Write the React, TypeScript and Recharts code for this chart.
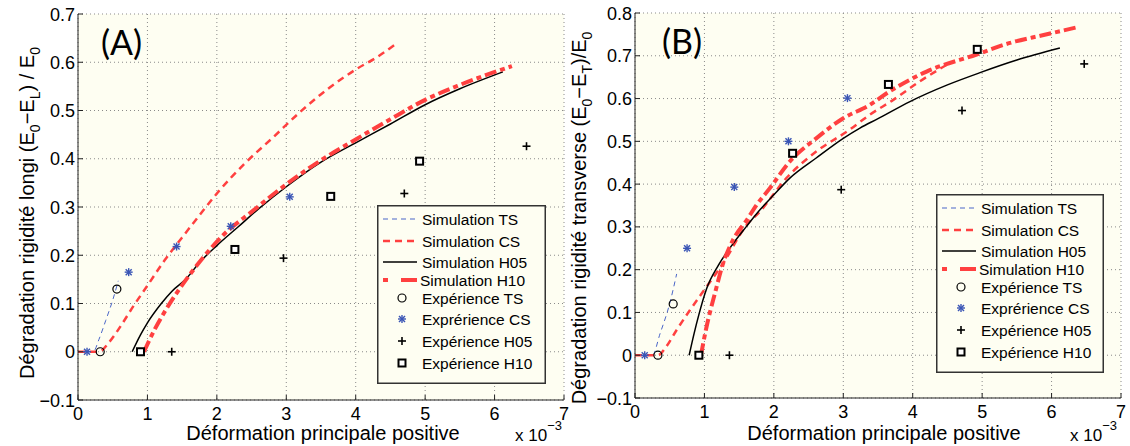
import { ComposedChart, Line, Scatter, XAxis, YAxis, CartesianGrid, Legend, Label } from "recharts";

type Pt = [number, number];

// (A) longitudinal stiffness loss, x in 1e-3
const simTS_A: Pt[] = [[0, 0], [0.22, 0], [0.3, 0.025], [0.4, 0.065], [0.5, 0.107], [0.58, 0.147]];
const simCS_A: Pt[] = [[0, 0], [0.3, 0], [0.45, 0.02], [0.6, 0.05], [0.8, 0.095], [1.0, 0.137], [1.25, 0.19], [1.5, 0.237], [1.75, 0.283], [2.0, 0.328], [2.4, 0.39], [2.8, 0.443], [3.2, 0.497], [3.6, 0.545], [4.0, 0.585], [4.3, 0.61], [4.6, 0.64]];
const simH05_A: Pt[] = [[0.78, 0], [0.9, 0.035], [1.0, 0.06], [1.2, 0.1], [1.35, 0.125], [1.55, 0.15], [1.75, 0.185], [2.0, 0.22], [2.3, 0.258], [2.6, 0.296], [3.0, 0.342], [3.5, 0.393], [4.0, 0.433], [4.5, 0.472], [5.0, 0.512], [5.5, 0.545], [6.12, 0.58]];
const simH10_A: Pt[] = [[0.95, 0], [1.1, 0.045], [1.3, 0.095], [1.5, 0.138], [1.8, 0.195], [2.1, 0.243], [2.5, 0.29], [3.0, 0.347], [3.5, 0.397], [4.0, 0.44], [4.5, 0.482], [5.0, 0.522], [5.5, 0.553], [6.25, 0.592]];
const expTS_A: Pt[] = [[0.32, 0], [0.56, 0.13]];
const expCS_A: Pt[] = [[0.13, 0], [0.73, 0.165], [1.42, 0.218], [2.2, 0.26], [3.05, 0.321]];
const expH05_A: Pt[] = [[1.35, 0], [2.96, 0.194], [4.7, 0.328], [6.46, 0.426]];
const expH10_A: Pt[] = [[0.9, 0], [2.26, 0.212], [3.64, 0.322], [4.92, 0.395]];

// (B) transverse stiffness loss
const simTS_B: Pt[] = [[0, 0], [0.25, 0], [0.36, 0.05], [0.5, 0.121], [0.6, 0.19]];
const simCS_B: Pt[] = [[0, 0], [0.33, 0], [0.45, 0.02], [0.6, 0.059], [0.79, 0.105], [1.03, 0.16], [1.27, 0.215], [1.61, 0.305], [1.8, 0.336], [2.18, 0.414], [2.61, 0.476], [3.09, 0.527], [3.38, 0.562], [3.72, 0.597], [4.1, 0.64], [4.5, 0.68]];
const simH05_B: Pt[] = [[0.78, 0], [0.85, 0.05], [0.92, 0.095], [1.03, 0.155], [1.2, 0.21], [1.4, 0.258], [1.6, 0.3], [1.8, 0.34], [2.0, 0.375], [2.23, 0.414], [2.61, 0.461], [3.0, 0.507], [3.24, 0.531], [3.5, 0.553], [3.96, 0.593], [4.5, 0.632], [4.96, 0.66], [5.5, 0.69], [6.12, 0.718]];
const simH10_B: Pt[] = [[0.95, 0], [1.03, 0.066], [1.15, 0.144], [1.27, 0.215], [1.41, 0.269], [1.61, 0.316], [1.75, 0.351], [1.94, 0.39], [2.23, 0.453], [2.61, 0.507], [3.0, 0.554], [3.38, 0.585], [3.65, 0.615], [4.2, 0.663], [4.92, 0.703], [5.4, 0.73], [5.87, 0.748], [6.38, 0.767]];
const expTS_B: Pt[] = [[0.33, 0], [0.55, 0.12]];
const expCS_B: Pt[] = [[0.14, 0], [0.75, 0.25], [1.43, 0.393], [2.21, 0.5], [3.06, 0.601]];
const expH05_B: Pt[] = [[1.36, 0], [2.97, 0.387], [4.71, 0.572], [6.47, 0.681]];
const expH10_B: Pt[] = [[0.92, 0], [2.27, 0.472], [3.65, 0.633], [4.93, 0.715]];

const xTicks = [0, 1, 2, 3, 4, 5, 6, 7];
const yTicksA = [-0.1, 0, 0.1, 0.2, 0.3, 0.4, 0.5, 0.6, 0.7];
const yTicksB = [-0.1, 0, 0.1, 0.2, 0.3, 0.4, 0.5, 0.6, 0.7, 0.8];

const legendLabels = [
  "Simulation TS",
  "Simulation CS",
  "Simulation H05",
  "Simulation H10",
  "Expérience TS",
  "Exprérience CS",
  "Expérience H05",
  "Expérience H10",
];

const FONT = "'Liberation Sans', Arial, Helvetica, sans-serif";
const RED = "#ff4040";
const BLUE = "#4a66c8";
const STAR = "#3a55b5";
const BG = "#fefef2";

const rows = (pts: Pt[]) => pts.map(([x, y]) => ({ x, y }));

const fmtY = (v: number) => {
  if (Math.abs(v) < 1e-9) return "0";
  const s = Math.abs(v).toFixed(1);
  return v < 0 ? "\u2212" + s : s;
};

// line styles for the 4 simulations (legend + plot)
const simStyle = [
  { stroke: BLUE, width: 1, dash: "5 4" },
  { stroke: RED, width: 2.5, dash: "7 5" },
  { stroke: "#000", width: 1.5, dash: undefined },
  { stroke: RED, width: 4, dash: "12 4 5 4" },
];
const markerKinds = ["circle", "star", "plus", "square"];

function Marker({ kind, cx, cy }: { kind: string; cx?: number; cy?: number }) {
  if (cx == null || cy == null) return null;
  if (kind === "circle")
    return <circle cx={cx} cy={cy} r={4} fill="none" stroke="#000" strokeWidth={1.2} />;
  if (kind === "star")
    return (
      <g stroke={STAR} strokeWidth={1.4}>
        <line x1={cx - 4} y1={cy} x2={cx + 4} y2={cy} />
        <line x1={cx} y1={cy - 4} x2={cx} y2={cy + 4} />
        <line x1={cx - 3} y1={cy - 3} x2={cx + 3} y2={cy + 3} />
        <line x1={cx - 3} y1={cy + 3} x2={cx + 3} y2={cy - 3} />
      </g>
    );
  if (kind === "plus")
    return (
      <g stroke="#000" strokeWidth={1.6}>
        <line x1={cx - 4} y1={cy} x2={cx + 4} y2={cy} />
        <line x1={cx} y1={cy - 4} x2={cx} y2={cy + 4} />
      </g>
    );
  return <rect x={cx - 3.5} y={cy - 3.5} width={7} height={7} fill="#fff" stroke="#000" strokeWidth={2} />;
}

const rowOffsets = [14, 36, 57, 75, 93, 114, 136, 158];

function LegendBox({ w, h }: { w: number; h: number }) {
  return (
    <svg width={w} height={h} style={{ display: "block" }}>
      <rect x={0.75} y={0.75} width={w - 1.5} height={h - 1.5} fill={BG} stroke="#333" strokeWidth={1.5} />
      {legendLabels.map((label, i) => {
        const y = rowOffsets[i];
        let sample;
        if (i < 4) {
          const s = simStyle[i];
          sample = (
            <line x1={6} y1={y} x2={40} y2={y} stroke={s.stroke} strokeWidth={s.width}
              strokeDasharray={i === 3 ? "5 13 16" : s.dash} />
          );
        } else {
          sample = <Marker kind={markerKinds[i - 4]} cx={25} cy={y} />;
        }
        return (
          <g key={label}>
            {sample}
            <text x={i === 3 ? 43 : 45} y={y + 5.5} fontSize={15.5} fontFamily={FONT} fill="#000">{label}</text>
          </g>
        );
      })}
    </svg>
  );
}

const XTick = (p: any) => {
  const { x, y, payload } = p;
  return (
    <g>
      <line x1={x} y1={y - 4} x2={x} y2={y - 9} stroke="#222" />
      <text x={x} y={y} dy={16} textAnchor="middle" fontSize={18} fontFamily={FONT} fill="#000">{payload.value}</text>
    </g>
  );
};

const YTick = (p: any) => {
  const { x, y, payload } = p;
  return (
    <g>
      <line x1={x + 3} y1={y} x2={x + 8} y2={y} stroke="#222" />
      <text x={x} y={y} dy={6.5} textAnchor="end" fontSize={18} fontFamily={FONT} fill="#000">{fmtY(payload.value)}</text>
    </g>
  );
};

type PanelCfg = {
  left: number;
  width: number;
  margin: { top: number; right: number; bottom: number; left: number };
  yDomain: [number, number];
  yTicks: number[];
  sims: Pt[][];
  exps: Pt[][];
  tag: string;
  tagX: number;
  tagY: number;
  yTitle: { cx: number; cy: number; sub: string; head: string; tail: string };
  xTitleX: number;
  expX: number;
  expY: number;
  legend: { x: number; y: number; w: number; h: number };
};

function Panel({ cfg }: { cfg: PanelCfg }) {
  const { cx, cy } = cfg.yTitle;
  return (
    <div style={{ position: "absolute", left: cfg.left, top: 0 }}>
      <ComposedChart width={cfg.width} height={446} margin={cfg.margin}>
        <CartesianGrid fill={BG} stroke="#8a8a8a" strokeDasharray="1 3" />
        <XAxis type="number" dataKey="x" domain={[0, 7]} ticks={xTicks} interval={0} height={40}
          tickSize={0} tickMargin={4} tickLine={false} axisLine={{ stroke: "#222" }} tick={XTick} allowDataOverflow>
          <Label content={() => (
            <g fontFamily={FONT} fill="#000">
              <text x={cfg.xTitleX} y={440} textAnchor="middle" fontSize={20}>Déformation principale positive</text>
              <text x={cfg.expX} y={cfg.expY} fontSize={17}>
                x 10<tspan dy={-11} fontSize={13}>{"\u22123"}</tspan>
              </text>
            </g>
          )} />
        </XAxis>
        <YAxis type="number" dataKey="y" domain={cfg.yDomain} ticks={cfg.yTicks} interval={0} width={50}
          tickSize={0} tickMargin={3} tickLine={false} axisLine={{ stroke: "#222" }} tick={YTick} allowDataOverflow>
          <Label content={() => (
            <g fontFamily={FONT} fill="#000">
              <text transform={`rotate(-90 ${cx} ${cy})`} x={cx} y={cy} textAnchor="middle" fontSize={20}>
                {cfg.yTitle.head}
                <tspan dy={6} fontSize={14}>0</tspan>
                <tspan dy={-6}>{"\u2212E"}</tspan>
                <tspan dy={6} fontSize={14}>{cfg.yTitle.sub}</tspan>
                <tspan dy={-6}>{cfg.yTitle.tail}</tspan>
                <tspan dy={6} fontSize={14}>0</tspan>
              </text>
              <text x={cfg.tagX} y={cfg.tagY} fontSize={34} fontFamily="Lato, 'Open Sans', sans-serif">{cfg.tag}</text>
            </g>
          )} />
        </YAxis>
        {cfg.sims.map((pts, i) => (
          <Line key={"sim" + i} name={legendLabels[i]} data={rows(pts)} dataKey="y" type="monotone"
            stroke={simStyle[i].stroke} strokeWidth={simStyle[i].width} strokeDasharray={simStyle[i].dash}
            dot={false} activeDot={false} isAnimationActive={false} />
        ))}
        {cfg.exps.map((pts, i) => (
          <Scatter key={"exp" + i} name={legendLabels[i + 4]} data={rows(pts)} dataKey="y"
            shape={(p: any) => <Marker kind={markerKinds[i]} cx={p.cx} cy={p.cy} />}
            isAnimationActive={false} />
        ))}
        <Legend layout="vertical" align="center" verticalAlign="middle"
          wrapperStyle={{ left: cfg.legend.x, top: cfg.legend.y, width: cfg.legend.w, height: cfg.legend.h }}
          content={() => <LegendBox w={cfg.legend.w} h={cfg.legend.h} />} />
      </ComposedChart>
    </div>
  );
}

const panelA: PanelCfg = {
  left: 0,
  width: 572,
  margin: { top: 14, right: 8, bottom: 6, left: 28 },
  yDomain: [-0.1, 0.7],
  yTicks: yTicksA,
  sims: [simTS_A, simCS_A, simH05_A, simH10_A],
  exps: [expTS_A, expCS_A, expH05_A, expH10_A],
  tag: "(A)",
  tagX: 101,
  tagY: 55,
  yTitle: { cx: 34, cy: 213, sub: "L", head: "Dégradation rigidité longi (E", tail: ") / E" },
  xTitleX: 323,
  expX: 515,
  expY: 441,
  legend: { x: 377, y: 205, w: 169, h: 179 },
};

const panelB: PanelCfg = {
  left: 565,
  width: 565,
  margin: { top: 13, right: 9, bottom: 8, left: 20 },
  yDomain: [-0.1, 0.8],
  yTicks: yTicksB,
  sims: [simTS_B, simCS_B, simH05_B, simH10_B],
  exps: [expTS_B, expCS_B, expH05_B, expH10_B],
  tag: "(B)",
  tagX: 97,
  tagY: 54,
  yTitle: { cx: 21, cy: 218, sub: "T", head: "Dégradation rigidité transverse (E", tail: ")/E" },
  xTitleX: 319,
  expX: 505,
  expY: 441,
  legend: { x: 371, y: 194, w: 168, h: 179 },
};

export default function App() {
  return (
    <div style={{ position: "absolute", left: 0, top: 0, width: 1130, height: 446, background: "#fff", overflow: "hidden" }}>
      <Panel cfg={panelA} />
      <Panel cfg={panelB} />
    </div>
  );
}
